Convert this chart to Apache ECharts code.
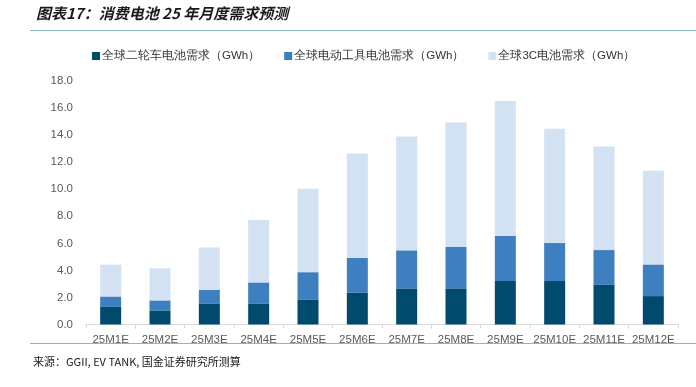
<!DOCTYPE html>
<html><head><meta charset="utf-8">
<script src="https://cdn.jsdelivr.net/npm/echarts@6/dist/echarts.min.js"></script>
<style>html,body{margin:0;padding:0;background:#fff}#c{width:696px;height:387px}</style>
</head><body><div id="c"></div>
<script>
var categories = ['25M1E','25M2E','25M3E','25M4E','25M5E','25M6E','25M7E','25M8E','25M9E','25M10E','25M11E','25M12E'];
var twoWheel = [1.30,1.04,1.56,1.56,1.82,2.37,2.67,2.67,3.21,3.21,2.93,2.10];
var powerTool = [0.77,0.74,1.00,1.55,2.05,2.56,2.81,3.08,3.35,2.81,2.57,2.34];
var consumer3C = [2.35,2.37,3.14,4.62,6.17,7.71,8.42,9.18,9.96,8.45,7.66,6.92];
var seriesNames = ['全球二轮车电池需求（GWh）','全球电动工具电池需求（GWh）','全球3C电池需求（GWh）'];
var colors = ['#004a6e','#3e7fbf','#d2e2f2'];
var font = '"Liberation Sans", Arial, sans-serif';
var chart = echarts.init(document.getElementById('c'));
chart.setOption({
  animation:false,
  color: colors,
  textStyle:{fontFamily:font},
  grid:{left:86,right:18,top:81,bottom:62.5,containLabel:false},
  legend:{top:45,left:87,itemWidth:8,itemHeight:8,itemGap:24,icon:'rect',
    textStyle:{fontSize:11.5,color:'#333',fontFamily:font,padding:[0,0,0,-3]},
    data:seriesNames},
  xAxis:{type:'category',data:categories,
    axisLine:{lineStyle:{color:'#d9d9d9'}},
    axisTick:{show:true,alignWithLabel:false,lineStyle:{color:'#d9d9d9'},length:4},
    axisLabel:{color:'#595959',fontSize:11.5,margin:9,interval:0}},
  yAxis:{type:'value',min:0,max:18,interval:2,
    axisLine:{show:false},axisTick:{show:false},splitLine:{show:false},
    axisLabel:{color:'#595959',fontSize:11.5,margin:13,formatter:function(v){return v.toFixed(1);}}},
  series:[
    {name:seriesNames[0],type:'bar',stack:'a',data:twoWheel,barWidth:21},
    {name:seriesNames[1],type:'bar',stack:'a',data:powerTool,barWidth:21},
    {name:seriesNames[2],type:'bar',stack:'a',data:consumer3C,barWidth:21}
  ],
  graphic:[
    {type:'text',left:36,top:6,style:{text:'图表17：消费电池 25 年月度需求预测',fontSize:15,fontWeight:'bold',fontStyle:'italic',fill:'#1a1a1a',fontFamily:'"Noto Sans CJK SC", sans-serif'}},
    {type:'line',shape:{x1:30,y1:30.5,x2:696,y2:30.5},style:{stroke:'#8fb4c8',lineWidth:1}},
    {type:'line',shape:{x1:30,y1:343.5,x2:696,y2:343.5},style:{stroke:'#8fb4c8',lineWidth:1}},
    {type:'text',left:33,top:356,style:{text:'来源：GGII, EV TANK, 国金证券研究所测算',fontSize:11,fill:'#1a1a1a',fontFamily:'"Noto Sans CJK SC", sans-serif'}}
  ]
});
</script></body></html>
